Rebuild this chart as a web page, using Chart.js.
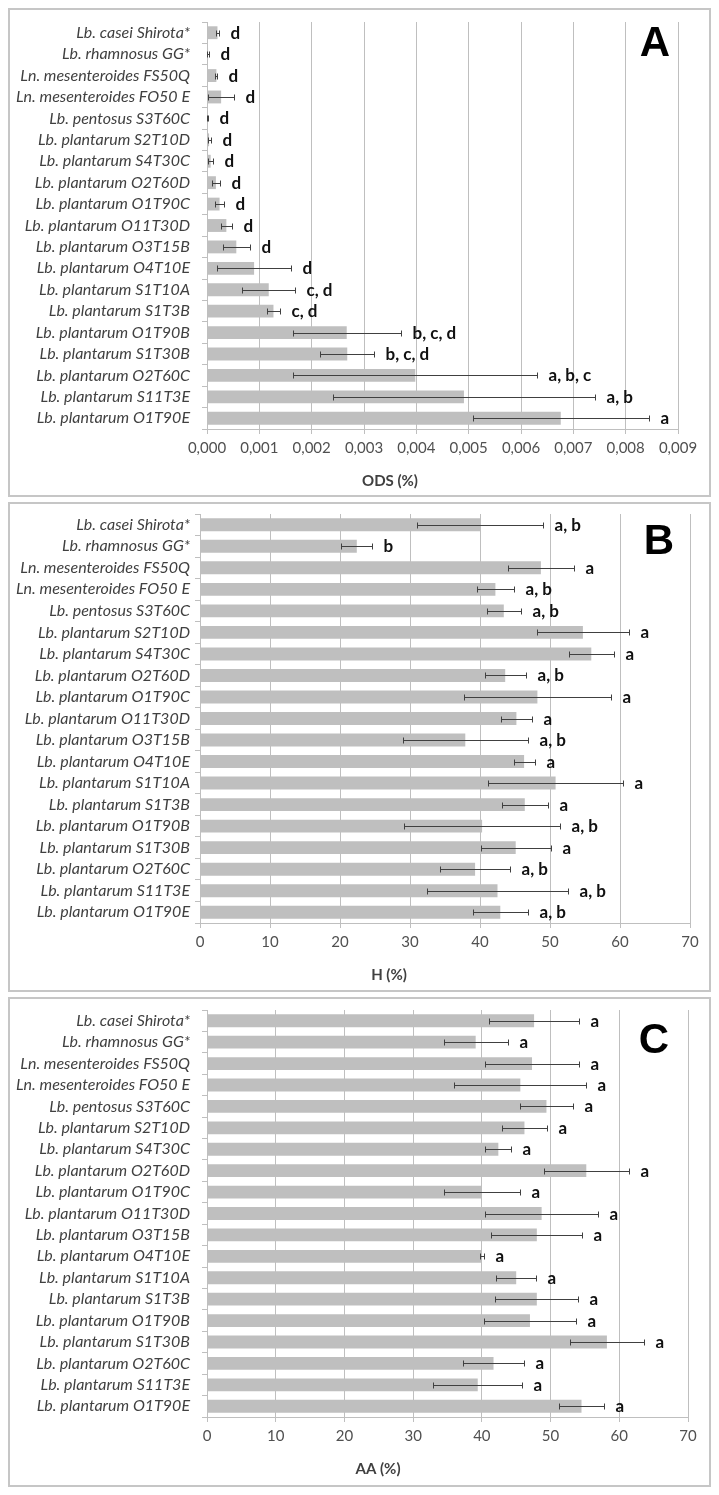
<!DOCTYPE html>
<html><head><meta charset="utf-8">
<script src="https://cdn.jsdelivr.net/npm/chart.js@4.4.0/dist/chart.umd.min.js"></script>
<style>
html,body{margin:0;padding:0;background:#fff;width:719px;height:1495px;overflow:hidden}
.panel{position:absolute;left:8px;width:703px}
canvas{display:block}
</style></head><body>
<div class="panel" style="top:8px;height:489px"><canvas id="cA" width="703" height="489"></canvas></div>
<div class="panel" style="top:502px;height:490px"><canvas id="cB" width="703" height="490"></canvas></div>
<div class="panel" style="top:997px;height:490px"><canvas id="cC" width="703" height="490"></canvas></div>
<script>
const categories = [
  "Lb. casei Shirota*", "Lb. rhamnosus GG*", "Ln. mesenteroides FS50Q", "Ln. mesenteroides FO50 E",
  "Lb. pentosus S3T60C", "Lb. plantarum S2T10D", "Lb. plantarum S4T30C", "Lb. plantarum O2T60D",
  "Lb. plantarum O1T90C", "Lb. plantarum O11T30D", "Lb. plantarum O3T15B", "Lb. plantarum O4T10E",
  "Lb. plantarum S1T10A", "Lb. plantarum S1T3B", "Lb. plantarum O1T90B", "Lb. plantarum S1T30B",
  "Lb. plantarum O2T60C", "Lb. plantarum S11T3E", "Lb. plantarum O1T90E"
];
const odsMean = [0.00020, 0.00002, 0.00018, 0.00027, 0.00001, 0.00004, 0.00007, 0.00017, 0.00024, 0.00037,
  0.00056, 0.00090, 0.00118, 0.00127, 0.00267, 0.00268, 0.00398, 0.00491, 0.00676];
const odsErr = [0.00002, 0.00002, 0.00002, 0.00025, 0.00001, 0.00003, 0.00005, 0.00008, 0.00008, 0.00010,
  0.00026, 0.00070, 0.00051, 0.00013, 0.00103, 0.00052, 0.00233, 0.00251, 0.00168];
const odsLetters = ["d","d","d","d","d","d","d","d","d","d","d","d","c, d","c, d","b, c, d","b, c, d","a, b, c","a, b","a"];

const hMean = [40.0, 22.4, 48.7, 42.2, 43.4, 54.7, 55.9, 43.6, 48.2, 45.2, 37.9, 46.3, 50.8, 46.4, 40.3, 45.1, 39.3, 42.5, 42.9];
const hErr = [9.0, 2.2, 4.7, 2.7, 2.4, 6.6, 3.2, 2.9, 10.5, 2.2, 8.9, 1.5, 9.6, 3.3, 11.1, 5.0, 5.0, 10.1, 3.9];
const hLetters = ["a, b","b","a","a, b","a, b","a","a","a, b","a","a","a, b","a","a","a","a, b","a","a, b","a, b","a, b"];

const aaMean = [47.6, 39.1, 47.3, 45.6, 49.4, 46.2, 42.4, 55.2, 40.0, 48.7, 48.0, 40.0, 45.0, 48.0, 47.0, 58.2, 41.7, 39.4, 54.5];
const aaErr = [6.6, 4.65, 6.85, 9.6, 3.9, 3.3, 1.9, 6.2, 5.5, 8.2, 6.6, 0.3, 2.95, 6.05, 6.7, 5.4, 4.5, 6.45, 3.25];
const aaLetters = ["a","a","a","a","a","a","a","a","a","a","a","a","a","a","a","a","a","a","a"];

const odsTicks = { min: 0, max: 0.009, step: 0.001 };
const pctTicks = { min: 0, max: 70, step: 10 };

const annot = {
  id: 'annot',
  afterDatasetsDraw(chart, args, o) {
    const { ctx } = chart;
    const x = chart.scales.x, y = chart.scales.y;
    ctx.save();
    o.mean.forEach((m, i) => {
      const yy = Math.round(y.getPixelForValue(i)) + 0.5;
      const x1 = Math.round(x.getPixelForValue(Math.max(0, m - o.err[i]))) + 0.5;
      const x2 = Math.round(x.getPixelForValue(m + o.err[i])) + 0.5;
      ctx.strokeStyle = '#404040'; ctx.lineWidth = 1;
      ctx.beginPath();
      ctx.moveTo(x1, yy); ctx.lineTo(x2, yy);
      ctx.moveTo(x1, yy - 3); ctx.lineTo(x1, yy + 3);
      ctx.moveTo(x2, yy - 3); ctx.lineTo(x2, yy + 3);
      ctx.stroke();
      ctx.fillStyle = '#111'; ctx.font = 'bold 17px Lato';
      ctx.textBaseline = 'middle'; ctx.textAlign = 'left';
      ctx.fillText(o.letters[i], x2 + 11, yy);
    });
    ctx.restore();
  },
  afterDraw(chart, args, o) {
    const { ctx, chartArea } = chart;
    ctx.save();
    ctx.fillStyle = '#404040'; ctx.font = 'bold 15px Lato';
    ctx.textAlign = 'center'; ctx.textBaseline = 'middle';
    ctx.fillText(o.title, o.titleX, chartArea.bottom + 52);
    ctx.fillStyle = '#000'; ctx.font = 'bold 42px "Liberation Sans", Arial';
    ctx.fillText(o.tag, o.tagX, o.tagY);
    ctx.strokeStyle = '#c6c6c6'; ctx.lineWidth = 2;
    ctx.strokeRect(1, 1, chart.width - 2, chart.height - 2);
    ctx.restore();
  }
};

function makeChart(id, mean, err, letters, tk, fmt, g) {
  return new Chart(document.getElementById(id), {
    type: 'bar',
    data: { labels: categories, datasets: [{ data: mean, backgroundColor: '#bfbfbf', borderWidth: 0,
      barPercentage: 0.6, categoryPercentage: 1 }] },
    options: {
      indexAxis: 'y', responsive: false, animation: false, devicePixelRatio: 1,
      layout: { padding: { left: 0, top: g.top, right: g.right, bottom: 0 } },
      plugins: { legend: { display: false }, tooltip: { enabled: false },
        annot: { mean, err, letters, title: g.title, titleX: g.titleX, tag: g.tag, tagX: g.tagX, tagY: g.tagY } },
      scales: {
        x: {
          type: 'linear', min: tk.min, max: tk.max,
          ticks: { stepSize: tk.step, callback: fmt, color: '#505050', font: { family: 'Lato', size: 15 }, padding: 5, maxRotation: 0 },
          grid: { color: '#bfbfbf', lineWidth: 1, tickLength: 5, drawTicks: true },
          border: { color: '#bfbfbf' },
          afterFit: s => { s.height = g.xh; s.paddingLeft = 0; s.paddingRight = 0; }
        },
        y: {
          ticks: { color: '#404040', font: { family: 'Lato', style: 'italic', size: 16 }, padding: g.ypad, autoSkip: false },
          grid: { display: true, drawOnChartArea: false, drawTicks: true, tickLength: 5, offset: true, color: '#bfbfbf' },
          border: { display: true, color: '#bfbfbf' },
          afterFit: s => { s.width = g.yw; s.paddingTop = 0; s.paddingBottom = 0; }
        }
      }
    },
    plugins: [annot]
  });
}

function init() {
  makeChart('cA', odsMean, odsErr, odsLetters, odsTicks, v => Number(v).toFixed(3).replace('.', ','),
    { top: 14, right: 33, xh: 68, yw: 199, ypad: 12, title: 'ODS (%)', titleX: 382, tag: 'A', tagX: 647, tagY: 36 });
  makeChart('cB', hMean, hErr, hLetters, pctTicks, v => String(v),
    { top: 12, right: 21, xh: 69, yw: 192, ypad: 5, title: 'H (%)', titleX: 381, tag: 'B', tagX: 651, tagY: 40 });
  makeChart('cC', aaMean, aaErr, aaLetters, pctTicks, v => String(v),
    { top: 13, right: 23, xh: 70, yw: 199, ypad: 12, title: 'AA (%)', titleX: 370, tag: 'C', tagX: 646, tagY: 44 });
}
Promise.all([
  document.fonts.load('italic 16px Lato'), document.fonts.load('bold 17px Lato'), document.fonts.load('15px Lato')
]).then(init, init);
</script>
</body></html>
